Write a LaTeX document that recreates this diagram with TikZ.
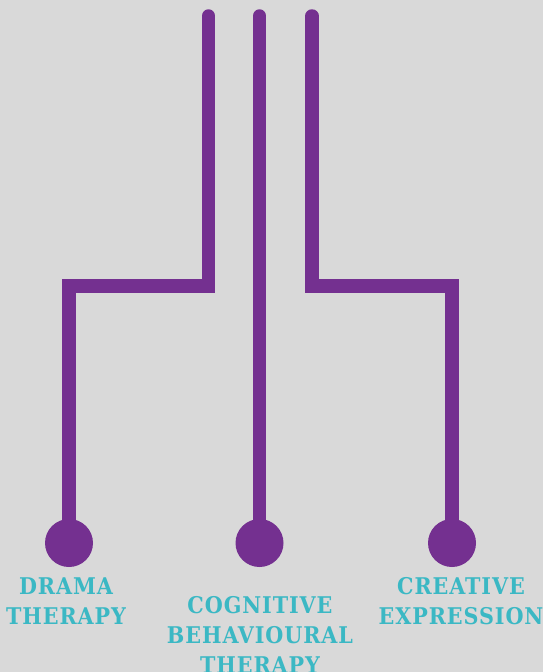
\documentclass[tikz,border=0pt]{standalone}
\usepackage{fontspec}
\newfontfamily\labelfont[LetterSpace=4]{DejaVu Serif Condensed}
\definecolor{bg}{HTML}{D9D9D9}
\definecolor{vio}{HTML}{743090}
\definecolor{teal}{HTML}{3BB8C4}
\tikzset{
  branch/.style={draw=vio,line width=13.5pt,line cap=round,line join=miter},
  dot/.style={circle,fill=vio,minimum size=48pt,inner sep=0pt},
  lbl/.style={text=teal,font=\labelfont\bfseries\fontsize{23}{30}\selectfont,align=center,inner sep=0pt,anchor=north}
}
\begin{document}
\begin{tikzpicture}[x=1pt,y=-1pt]
\fill[bg] (0,0) rectangle (543,672);
\useasboundingbox (0,0) rectangle (543,672);
\coordinate (t1) at (208.5,16);
\coordinate (t2) at (259.5,16);
\coordinate (t3) at (312,16);
\node[dot] (d1) at (69,543) {};
\node[dot] (d2) at (259.5,543) {};
\node[dot] (d3) at (452,543) {};
\draw[branch] (t1) |- (d1.center |- 0,286) -- (d1.center);
\draw[branch] (t2) -- (d2.center);
\draw[branch] (t3) |- (d3.center |- 0,286) -- (d3.center);
\node[lbl] (l1) at (66,577.5) {DRAMA\\THERAPY};
\node[lbl] (l2) at (260,596) {COGNITIVE\\BEHAVIOURAL\\THERAPY};
\node[lbl] (l3) at (461,577.5) {CREATIVE\\EXPRESSION};
\end{tikzpicture}
\end{document}
